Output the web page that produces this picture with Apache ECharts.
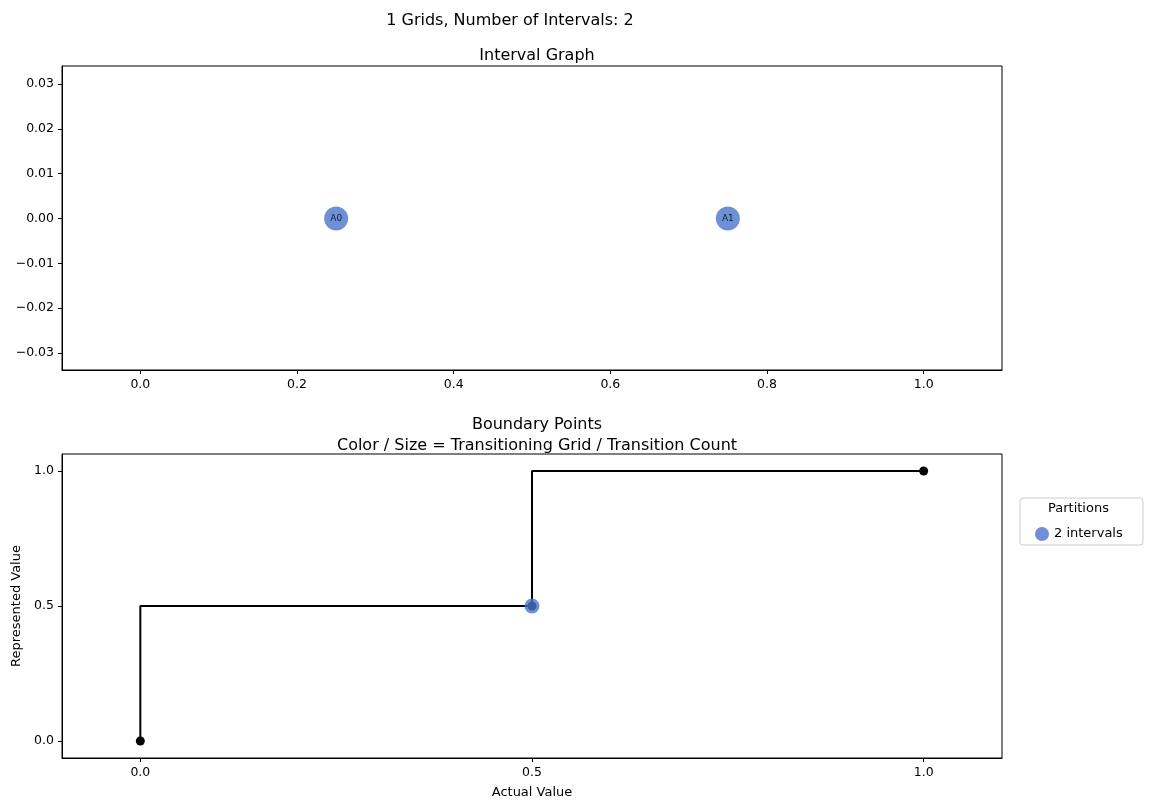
<!DOCTYPE html>
<html><head><meta charset="utf-8">
<script src="https://cdn.jsdelivr.net/npm/echarts@6/dist/echarts.min.js"></script>
<style>html,body{margin:0;background:#fff}#c{width:1158px;height:811px}</style>
</head><body><div id="c"></div>
<script>
// top panel: interval nodes
var nodeNames = ['A0', 'A1']
var nodeX = [0.25, 0.75]
var nodeY = [0, 0]
var topXTicks = [0, 0.2, 0.4, 0.6, 0.8, 1.0]
var topYTicks = [-0.03, -0.02, -0.01, 0, 0.01, 0.02, 0.03]
// bottom panel: boundary points
var stepX = [0, 0.5, 1]
var stepY = [0, 0.5, 1]
var boundX = [0.5]
var boundY = [0.5]
var botTicks = [0, 0.5, 1.0]

var blue = '#4a74cc'
var font = 'DejaVu Sans'
var chart = echarts.init(document.getElementById('c'))

var axisBase = (min, max, ticks, fmt) => ({
    type: 'value', min: min, max: max,
    splitLine: {show: false},
    axisLine: {show: true, onZero: false, lineStyle: {color: '#000'}},
    axisTick: {show: true, customValues: ticks, length: 4, lineStyle: {color: '#000'}},
    axisLabel: {customValues: ticks, color: '#000', fontSize: 12.5, fontFamily: font, formatter: fmt}
})
var minus = (d) => (v) => (v < 0 ? '\u2212' : '') + Math.abs(v).toFixed(d)

var xTop = axisBase(-0.1, 1.1, topXTicks, minus(1))
var yTop = axisBase(-0.0338, 0.034, topYTicks, minus(2))
var xBot = axisBase(-0.1, 1.1, botTicks, minus(1))
xBot.name = 'Actual Value'; xBot.nameLocation = 'middle'; xBot.nameGap = 28
xBot.nameTextStyle = {color: '#000', fontSize: 13, fontFamily: font}
var yBot = axisBase(-0.063, 1.063, botTicks, minus(1))
yBot.name = 'Represented Value'; yBot.nameLocation = 'middle'; yBot.nameGap = 34
yBot.nameTextStyle = {color: '#000', fontSize: 13, fontFamily: font}

chart.setOption({
    animation: false,
    title: [
        {text: '1 Grids, Number of Intervals: 2', left: 505, top: 8, textAlign: 'center',
         textStyle: {fontSize: 16, fontWeight: 'normal', fontFamily: font, color: '#000'}},
        {text: 'Interval Graph', left: 532, top: 43, textAlign: 'center',
         textStyle: {fontSize: 16, fontWeight: 'normal', fontFamily: font, color: '#000'}},
        {text: 'Boundary Points\nColor / Size = Transitioning Grid / Transition Count', left: 532, top: 409, textAlign: 'center',
         textStyle: {fontSize: 16, fontWeight: 'normal', fontFamily: font, color: '#000', lineHeight: 21}}
    ],
    grid: [
        {left: 62, top: 66, width: 940, height: 304, show: true, borderColor: '#000', borderWidth: 1},
        {left: 62, top: 454, width: 940, height: 304, show: true, borderColor: '#000', borderWidth: 1}
    ],
    xAxis: [Object.assign(xTop, {gridIndex: 0}), Object.assign(xBot, {gridIndex: 1})],
    yAxis: [Object.assign(yTop, {gridIndex: 0}), Object.assign(yBot, {gridIndex: 1})],
    legend: {
        data: [{name: '2 intervals', icon: 'circle'}],
        left: 1030, top: 522, itemWidth: 14, itemHeight: 14,
        textStyle: {fontSize: 13, fontFamily: font, color: '#000'}
    },
    graphic: [
        {type: 'rect', shape: {x: 1020, y: 498, width: 123, height: 47, r: 3},
         style: {fill: '#fff', stroke: '#ccc', lineWidth: 1}, z: -1},
        {type: 'text', left: 1048, top: 502,
         style: {text: 'Partitions', fontSize: 13, fontFamily: font, fill: '#000'}}
    ],
    series: [
        {type: 'scatter', xAxisIndex: 0, yAxisIndex: 0, symbolSize: 24,
         itemStyle: {color: blue},
         label: {show: true, position: 'inside', fontSize: 9, color: '#000', fontFamily: font,
                 formatter: (p) => nodeNames[p.dataIndex]},
         data: nodeX.map((x, i) => [x, nodeY[i]])},
        {type: 'line', xAxisIndex: 1, yAxisIndex: 1, step: 'start',
         lineStyle: {color: '#000', width: 2}, symbol: 'circle', symbolSize: 9,
         itemStyle: {color: '#000'},
         data: stepX.map((x, i) => [x, stepY[i]])},
        {name: '2 intervals', type: 'scatter', xAxisIndex: 1, yAxisIndex: 1, symbolSize: 15,
         itemStyle: {color: blue}, z: 5,
         data: boundX.map((x, i) => [x, boundY[i]])}
    ]
})
</script></body></html>
